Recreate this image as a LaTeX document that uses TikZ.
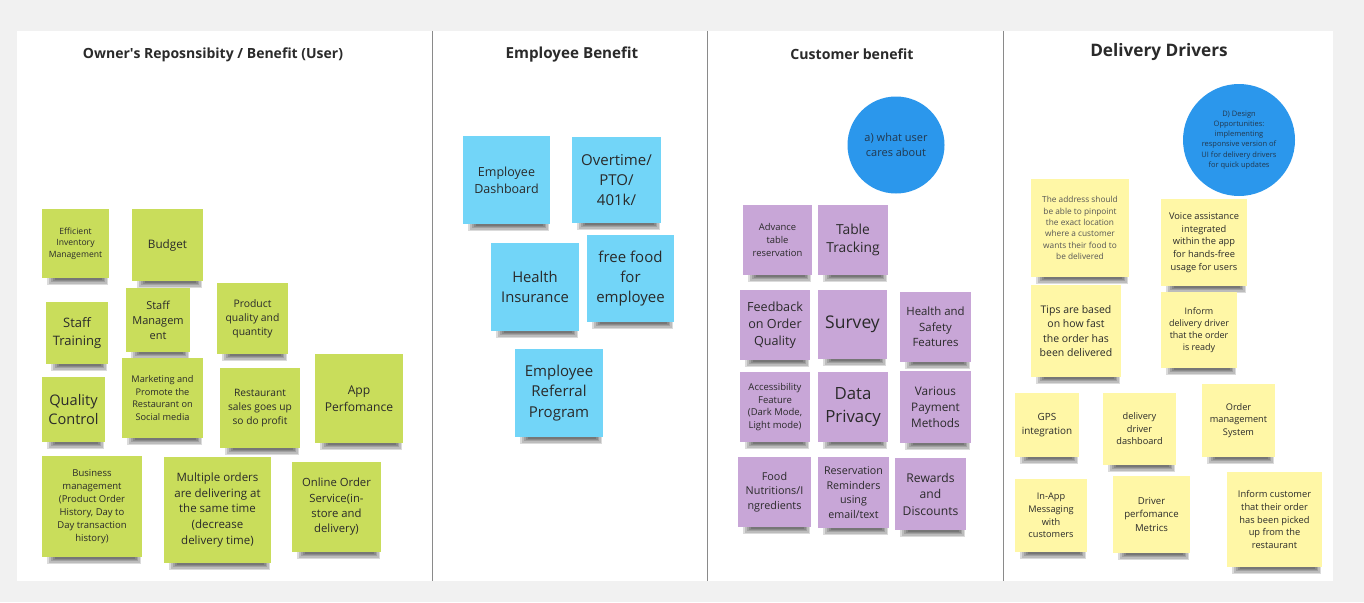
\documentclass[tikz,border=0pt]{standalone}
\usepackage{fontspec}
\setmainfont{Open Sans}
\definecolor{pagebg}{HTML}{F1F1F1}
\definecolor{board}{HTML}{FFFFFF}
\definecolor{divider}{HTML}{8A8A8A}
\definecolor{ink}{HTML}{2A2A2A}
\definecolor{ink2}{HTML}{555555}
\definecolor{circink}{HTML}{22384F}
\definecolor{gn}{HTML}{C9DD5B}
\definecolor{bl}{HTML}{72D5F8}
\definecolor{pu}{HTML}{C8A6D7}
\definecolor{ye}{HTML}{FFF7A6}
\definecolor{circblue}{HTML}{2B97EC}

\tikzset{
  fs/.code={\pgfmathsetmacro\fslead{1.36*#1}%
    \tikzset{font/.expanded={\noexpand\fontsize{#1}{\fslead}\noexpand\selectfont}}},
  sticky/.style={rectangle, draw=none, align=center, inner sep=0pt, text=ink},
  circ/.style={circle, draw=none, fill=circblue, align=center, inner sep=0pt, text=circink},
  head/.style={align=center, inner sep=0pt, text=ink},
  divline/.style={draw=divider, line width=1pt},
}

% sticky note: name, left, top, right, bottom, options, text
\newcommand\stickynote[7]{%
  \foreach \k in {0,...,4}{%
    \fill[black,opacity=0.14] ({#2+5+2*\k},{#5-6}) rectangle ({#4-1-1.5*\k},{#5+7-1.3*\k});
  }%
  \pgfmathsetmacro\stkw{#4-#2}\pgfmathsetmacro\stkh{#5-#3}%
  \node[sticky,#6,minimum width=\stkw pt,minimum height=\stkh pt] (#1) at ({(#2+#4)/2},{(#3+#5)/2}) {#7};
}

\begin{document}
\begin{tikzpicture}[x=1pt,y=-1pt]
\useasboundingbox (0,0) rectangle (1364,602);
\fill[pagebg] (0,0) rectangle (1364,602);
\fill[board] (17,31) rectangle (1333,581);

% column dividers
\coordinate (d1t) at (432,31); \coordinate (d1b) at (432,581);
\coordinate (d2t) at (707,31); \coordinate (d2b) at (707,581);
\coordinate (d3t) at (1003,31); \coordinate (d3b) at (1003,581);
\draw[divline] (d1t) -- (d1b);
\draw[divline] (d2t) -- (d2b);
\draw[divline] (d3t) -- (d3b);

% column headings
\node[head,fs=14] (hOwner) at (213,54.5) {\bfseries Owner\textquotesingle s Reposnsibity / Benefit (User)};
\node[head,fs=15.2] (hEmployee) at (572,54.5) {\bfseries Employee Benefit};
\node[head,fs=14.1] (hCustomer) at (852,54.5) {\bfseries Customer benefit};
\node[head,fs=17.2] (hDriver) at (1159,52.5) {\bfseries Delivery Drivers};

% owner column
\stickynote{inventory}{42}{209}{109}{278}{fill=gn,fs=8.6}{Efficient\\Inventory\\Management}
\stickynote{budget}{132}{209}{203}{281}{fill=gn,fs=11.7}{Budget}
\stickynote{training}{46}{302}{108}{364}{fill=gn,fs=13}{Staff\\Training}
\stickynote{staffmgmt}{126}{288}{190}{352}{fill=gn,fs=11}{Staff\\Managem\\ent}
\stickynote{product}{217}{283}{288}{354}{fill=gn,fs=10.4}{Product\\quality and\\quantity}
\stickynote{quality}{42}{377}{105}{442}{fill=gn,fs=14.6}{Quality\\Control}
\stickynote{marketing}{122}{358}{203}{438}{fill=gn,fs=9.2}{Marketing and\\Promote the\\Restaurant on\\Social media}
\stickynote{sales}{220}{368}{300}{448}{fill=gn,fs=10.2}{Restaurant\\sales goes up\\so do profit}
\stickynote{appperf}{315}{354}{403}{443}{fill=gn,fs=12.1}{App\\Perfomance}
\stickynote{business}{42}{456}{142}{557}{fill=gn,fs=9.5}{Business\\management\\(Product Order\\History, Day to\\Day transaction\\history)}
\stickynote{multiple}{164}{457}{271}{563}{fill=gn,fs=11.5}{Multiple orders\\are delivering at\\the same time\\(decrease\\delivery time)}
\stickynote{online}{292}{462}{381}{552}{fill=gn,fs=11.3}{Online Order\\Service(in-\\store and\\delivery)}

% employee column
\stickynote{dashboard}{463}{136}{550}{224}{fill=bl,fs=12.5}{Employee\\Dashboard}
\stickynote{overtime}{572}{137}{661}{223}{fill=bl,fs=15}{Overtime/\\PTO/\\401k/}
\stickynote{health}{491}{243}{579}{331}{fill=bl,fs=14.8}{Health\\Insurance}
\stickynote{food}{587}{235}{674}{322}{fill=bl,fs=15}{free food\\for\\employee}
\stickynote{referral}{515}{349}{603}{437}{fill=bl,fs=15}{Employee\\Referral\\Program}

% customer column
\node[circ,minimum size=97pt,fs=11] (usercares) at (896,145) {a) what user\\cares about};
\stickynote{advance}{743}{205}{812}{275}{fill=pu,fs=9.4}{Advance\\table\\reservation}
\stickynote{tracking}{818}{205}{888}{275}{fill=pu,fs=13.8}{Table\\Tracking}
\stickynote{feedback}{740}{290}{810}{360}{fill=pu,fs=12.6}{Feedback\\on Order\\Quality}
\stickynote{survey}{818}{290}{887}{359}{fill=pu,fs=17.5}{Survey}
\stickynote{safety}{900}{292}{971}{362}{fill=pu,fs=11.4}{Health and\\Safety\\Features}
\stickynote{access}{740}{372}{810}{442}{fill=pu,fs=9.5}{Accessibility\\Feature\\(Dark Mode,\\Light mode)}
\stickynote{privacy}{818}{372}{888}{442}{fill=pu,fs=16.8}{Data\\Privacy}
\stickynote{payment}{900}{371}{971}{443}{fill=pu,fs=11.8}{Various\\Payment\\Methods}
\stickynote{nutrition}{738}{457}{811}{527}{fill=pu,fs=10.8}{Food\\Nutritions/I\\ngredients}
\stickynote{reminders}{818}{457}{889}{528}{fill=pu,fs=10.7}{Reservation\\Reminders\\using\\email/text}
\stickynote{rewards}{895}{458}{966}{530}{fill=pu,fs=12.1}{Rewards\\and\\Discounts}

% delivery drivers column
\node[circ,minimum size=112pt,fs=7.5] (design) at (1239,140) {D) Design\\Opportunities:\\implementing\\responsive version of\\UI for delivery drivers\\for quick updates};
\stickynote{address}{1031}{179}{1129}{277}{fill=ye,fs=8.3,text=ink2}{The address should\\be able to pinpoint\\the exact location\\where a customer\\wants their food to\\be delivered}
\stickynote{voice}{1161}{199}{1247}{286}{fill=ye,fs=9.3}{Voice assistance\\integrated\\within the app\\for hands-free\\usage for users}
\stickynote{tips}{1031}{285}{1121}{377}{fill=ye,fs=10.5}{Tips are based\\on how fast\\the order has\\been delivered}
\stickynote{informdriver}{1161}{292}{1237}{368}{fill=ye,fs=9}{Inform\\delivery driver\\that the order\\is ready}
\stickynote{gps}{1015}{393}{1079}{457}{fill=ye,fs=9.9}{GPS\\integration}
\stickynote{driverdash}{1103}{393}{1176}{465}{fill=ye,fs=9.2}{delivery\\driver\\dashboard}
\stickynote{ordermgmt}{1202}{384}{1275}{457}{fill=ye,fs=9.2}{Order\\management\\System}
\stickynote{messaging}{1015}{479}{1087}{552}{fill=ye,fs=9.2}{In-App\\Messaging\\with\\customers}
\stickynote{metrics}{1113}{476}{1190}{553}{fill=ye,fs=9.6}{Driver\\perfomance\\Metrics}
\stickynote{informcust}{1227}{472}{1322}{567}{fill=ye,fs=9.3}{Inform customer\\that their order\\has been picked\\up from the\\restaurant}
\end{tikzpicture}
\end{document}
